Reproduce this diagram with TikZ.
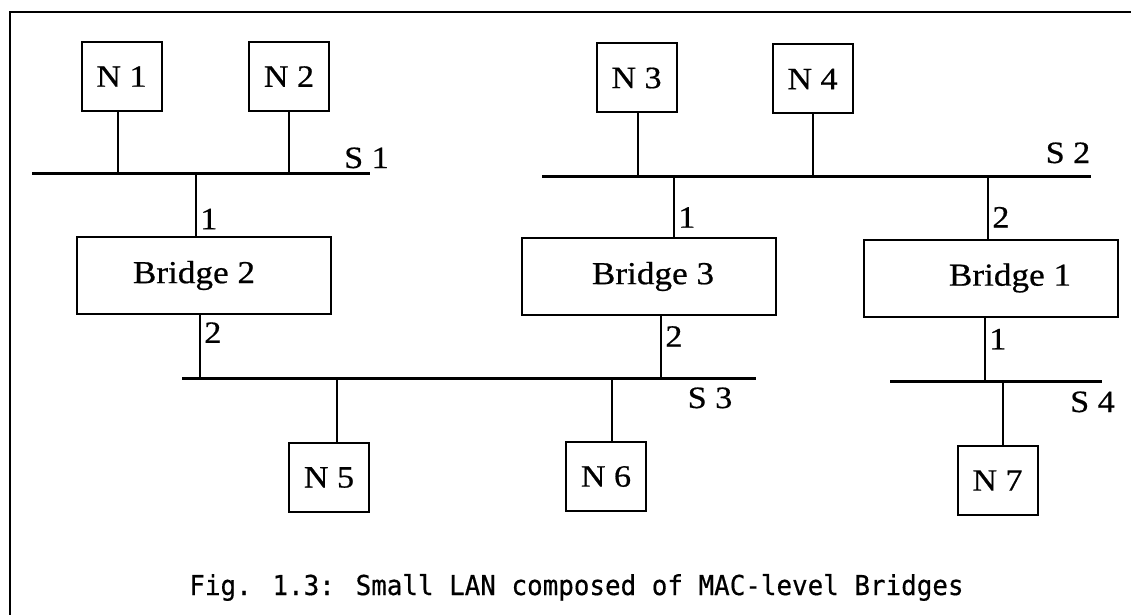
\documentclass[tikz,border=0pt]{standalone}
\usepackage{fontspec}
\setmainfont{Liberation Serif}[FakeStretch=1.1, FakeBold=0.6]
\newfontfamily\capfont{DejaVu Sans Mono}[FakeStretch=0.945, FakeBold=0.5]
\usepackage{tikz}

\begin{document}
\begin{tikzpicture}[x=1pt, y=-1pt,
    station/.style={draw, line width=2pt, minimum width=80pt, minimum height=69pt,
        inner sep=0pt, font=\fontsize{31}{37}\selectfont},
    bridgebox/.style={draw, line width=2pt, minimum width=254pt, minimum height=77pt,
        inner sep=0pt, font=\fontsize{32}{38}\selectfont},
    bus/.style={line width=3pt},
    stem/.style={line width=2pt},
    port/.style={font=\fontsize{31}{37}\selectfont},
    seglabel/.style={font=\fontsize{31}{37}\selectfont, anchor=base},
    frame/.style={line width=2pt}
]
\useasboundingbox (0,0) rectangle (1131,615);

% Frame
\coordinate (fr) at (1131,12);
\coordinate (fc) at (10,12);
\coordinate (fb) at (10,615);
\draw[frame] (fr) -- (fc) -- (fb);

% Stations
\node[station] (n1) at (121.5,76.5) {N 1};
\node[station] (n2) at (289,76.5) {N 2};
\node[station] (n3) at (636.5,78) {N 3};
\node[station] (n4) at (812.5,79) {N 4};
\node[station] (n5) at (329,477.5) {N 5};
\node[station] (n6) at (606,476.5) {N 6};
\node[station] (n7) at (997.5,480.5) {N 7};

% Bridges (text sits a little off centre)
\node[bridgebox] (b2) at (204,275.5) {\hspace*{-20pt}Bridge 2};
\node[bridgebox] (b3) at (649,276.5) {Bridge 3\hspace*{-8pt}};
\node[bridgebox] (b1) at (991,278) {Bridge 1\hspace*{-38pt}};

% Segments
\coordinate (s1w) at (32,173);   \coordinate (s1e) at (370,173);
\coordinate (s2w) at (542,176);  \coordinate (s2e) at (1091,176);
\coordinate (s3w) at (182,378);  \coordinate (s3e) at (756,378);
\coordinate (s4w) at (890,381);  \coordinate (s4e) at (1102,381);
\draw[bus] (s1w) -- (s1e);
\draw[bus] (s2w) -- (s2e);
\draw[bus] (s3w) -- (s3e);
\draw[bus] (s4w) -- (s4e);

\node[seglabel] (l1) at (366.5,168) {S 1};
\node[seglabel] (l2) at (1068,163) {S 2};
\node[seglabel] (l3) at (710,408) {S 3};
\node[seglabel] (l4) at (1092.5,412) {S 4};

% Taps on the segments
\coordinate (t1) at (118,173);
\coordinate (t2) at (289,173);
\coordinate (t3) at (638,176);
\coordinate (t4) at (813,176);
\coordinate (t5) at (337,378);
\coordinate (t6) at (612,378);
\coordinate (t7) at (1003,381);
\coordinate (p21) at (196,173);
\coordinate (p22) at (200,378);
\coordinate (p31) at (674,176);
\coordinate (p32) at (661,378);
\coordinate (p12) at (988,176);
\coordinate (p11) at (985,381);

% Station drops
\draw[stem] (n1.south -| t1) -- (t1);
\draw[stem] (n2.south -| t2) -- (t2);
\draw[stem] (n3.south -| t3) -- (t3);
\draw[stem] (n4.south -| t4) -- (t4);
\draw[stem] (t5) -- (t5 |- n5.north);
\draw[stem] (t6) -- (t6 |- n6.north);
\draw[stem] (t7) -- (t7 |- n7.north);

% Bridge ports
\draw[stem] (p21) -- node[port, right, pos=0.73] {1} (p21 |- b2.north);
\draw[stem] (p22) -- node[port, right, pos=0.72] {2} (p22 |- b2.south);
\draw[stem] (p31) -- node[port, right, pos=0.68] {1} (p31 |- b3.north);
\draw[stem] (p32) -- node[port, right, pos=0.67] {2} (p32 |- b3.south);
\draw[stem] (p12) -- node[port, right, pos=0.66] {2} (p12 |- b1.north);
\draw[stem] (p11) -- node[port, right, pos=0.66] {1} (p11 |- b1.south);

% Caption
\node[font=\capfont\fontsize{27.4}{32}\selectfont, anchor=base] (cap) at (576.5,595)
    {Fig. 1.3: Small LAN composed of MAC-level Bridges};

\end{tikzpicture}
\end{document}
